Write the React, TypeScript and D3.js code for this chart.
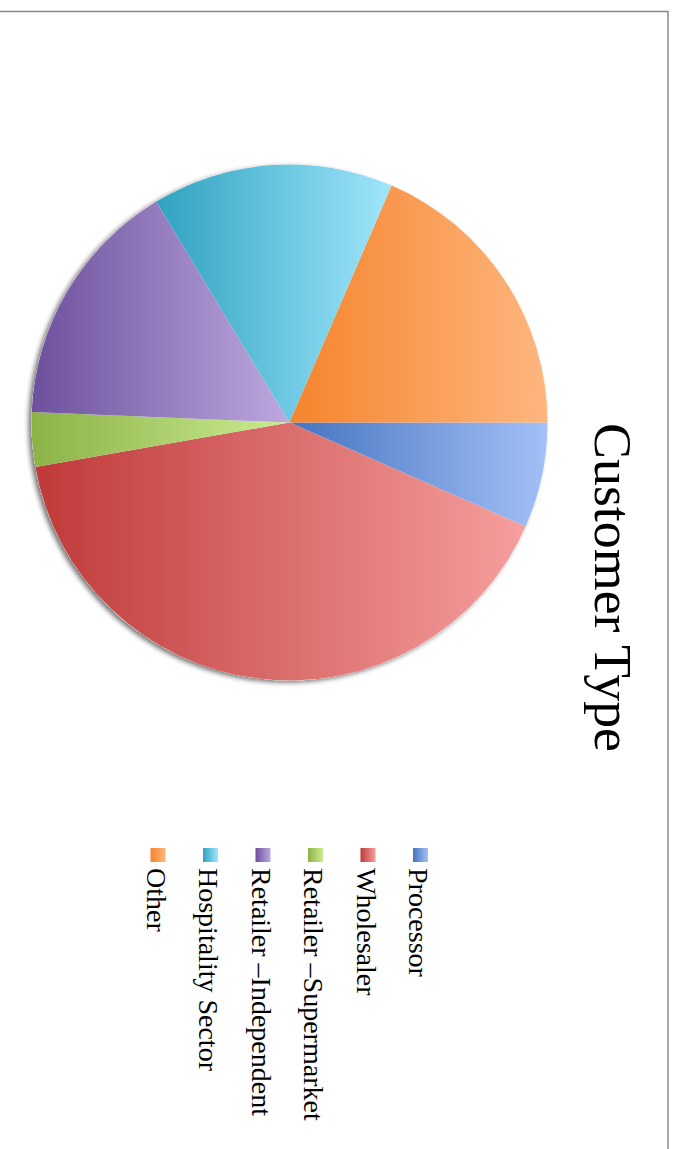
import React from "react";
import * as d3 from "d3";

const categories = [
  "Processor",
  "Wholesaler",
  "Retailer \u2013Supermarket",
  "Retailer \u2013Independent",
  "Hospitality Sector",
  "Other",
];
const values = [6.6, 40.6, 3.4, 15.7, 15.1, 18.5];
const darkColors = ["#4574bf", "#bf3a39", "#8cb247", "#6d509d", "#2fa2c0", "#f5842c"];
const lightColors = ["#a3c0f7", "#f59f9e", "#cbec92", "#bca9de", "#a0e6fb", "#feb67f"];
const title = "Customer Type";

export default function App() {
  const W = 676;
  const H = 1149;
  const cx = 289.5;
  const cy = 422.5;
  const r = 258;

  const pie = d3
    .pie<number>()
    .sort(null)
    .startAngle(Math.PI / 2)
    .endAngle(Math.PI / 2 + 2 * Math.PI);
  const arcs = pie(values);
  const arc = d3.arc<d3.PieArcDatum<number>>().innerRadius(0).outerRadius(r);

  const legendX = d3
    .scalePoint<string>()
    .domain(categories)
    .range([420.5, 158]);

  return (
    <svg
      width={W}
      height={H}
      style={{ position: "absolute", left: 0, top: 0, background: "#fff" }}
    >
      <defs>
        {categories.map((c, i) => (
          <linearGradient key={c} id={`g${i}`} x1="0" y1="0" x2="1" y2="0">
            <stop offset="0" stopColor={darkColors[i]} />
            <stop offset="1" stopColor={lightColors[i]} />
          </linearGradient>
        ))}
        {categories.map((c, i) => (
          <linearGradient key={"l" + c} id={`lg${i}`} x1="0" y1="0" x2="1" y2="0">
            <stop offset="0" stopColor={darkColors[i]} />
            <stop offset="1" stopColor={lightColors[i]} />
          </linearGradient>
        ))}
        <filter id="shadow" x="-20%" y="-20%" width="140%" height="140%">
          <feGaussianBlur in="SourceAlpha" stdDeviation="2.5" />
          <feOffset dx="-3" dy="2" result="off" />
          <feComponentTransfer>
            <feFuncA type="linear" slope="0.55" />
          </feComponentTransfer>
          <feMerge>
            <feMergeNode />
            <feMergeNode in="SourceGraphic" />
          </feMerge>
        </filter>
      </defs>

      <line x1={0} y1={11.5} x2={668.5} y2={11.5} stroke="#8a8a8a" strokeWidth={1.5} />
      <line x1={668} y1={11} x2={668} y2={H} stroke="#8a8a8a" strokeWidth={1.5} />

      <g transform={`translate(${cx},${cy})`}>
        <circle r={r} fill="#fff" filter="url(#shadow)" />
        {arcs.map((a, i) => (
          <path key={categories[i]} d={arc(a) || ""} fill={`url(#g${i})`} />
        ))}
      </g>

      <text
        transform={`translate(595,423) rotate(90)`}
        fontFamily="'Liberation Serif', 'Times New Roman', serif"
        fontSize={52}
        fill="#000"
        textLength={329}
        lengthAdjust="spacingAndGlyphs"
      >
        {title}
      </text>

      {categories.map((c, i) => {
        const x = legendX(c) as number;
        return (
          <g key={c}>
            <rect x={x - 7.5} y={848} width={15} height={14} fill={`url(#lg${i})`} />
            <text
              transform={`translate(${x - 11.5},868) rotate(90)`}
              fontFamily="'Liberation Serif', 'Times New Roman', serif"
              fontSize={28}
              fill="#000"
            >
              {c}
            </text>
          </g>
        );
      })}
    </svg>
  );
}
